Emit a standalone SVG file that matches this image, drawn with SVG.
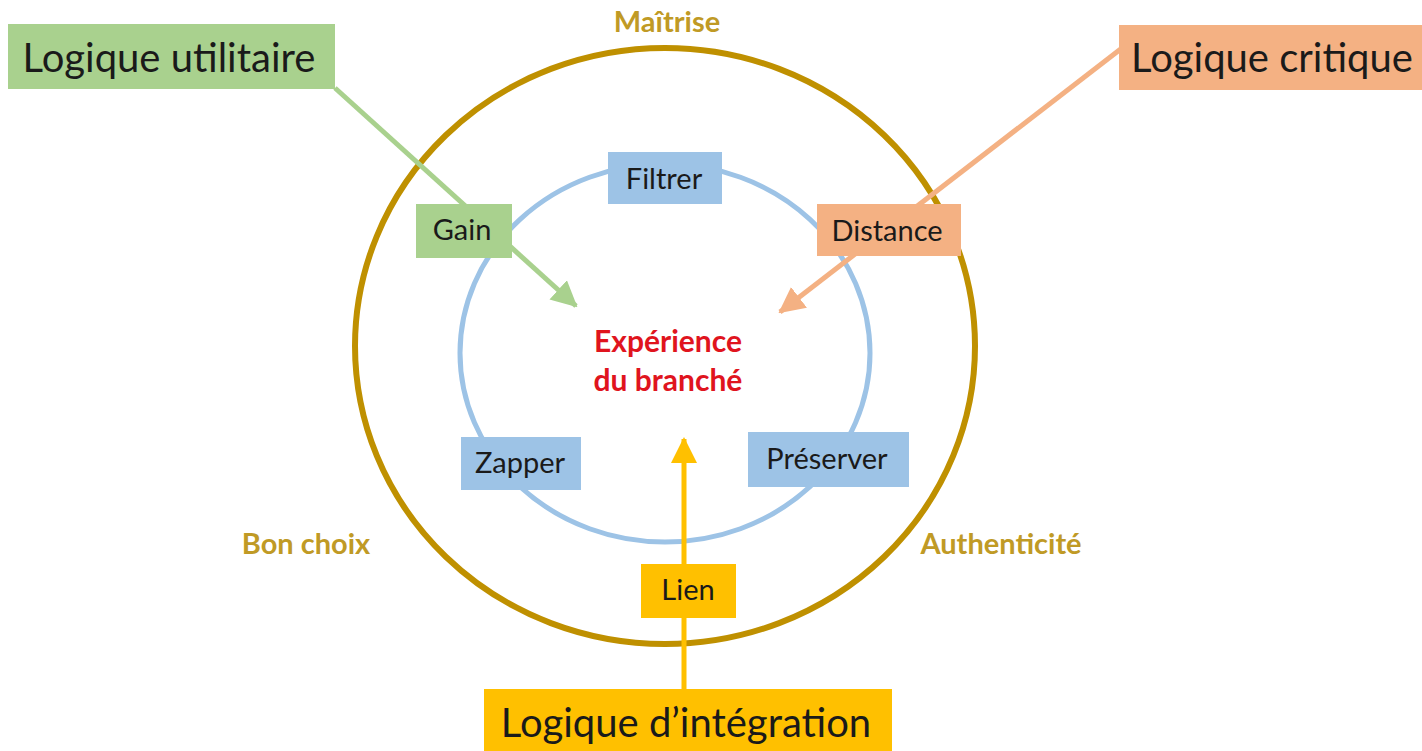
<svg xmlns="http://www.w3.org/2000/svg" width="1422" height="751" viewBox="0 0 1422 751">
<style>
text{font-family:Lato,"Liberation Sans",sans-serif;text-anchor:middle;fill:#1a1a1a}
.big{font-size:40px}
.sm{font-size:29px}
.gold{font-size:29px;font-weight:bold;fill:#C09A25}
.red{font-size:30px;font-weight:bold;fill:#E0141E}
.green{fill:#A9D18E}.orange{fill:#F4B183}.blue{fill:#9DC3E6}.yellow{fill:#FFC000}
</style>
<defs>
<marker id="ag" markerUnits="userSpaceOnUse" markerWidth="26" markerHeight="26" viewBox="0 0 26 26" refX="24" refY="13" orient="auto"><path d="M0,0 L26,13 L0,26 z" fill="#A9D18E"/></marker>
<marker id="ao" markerUnits="userSpaceOnUse" markerWidth="26" markerHeight="26" viewBox="0 0 26 26" refX="24" refY="13" orient="auto"><path d="M0,0 L26,13 L0,26 z" fill="#F4B183"/></marker>
<marker id="ay" markerUnits="userSpaceOnUse" markerWidth="26" markerHeight="26" viewBox="0 0 26 26" refX="24" refY="13" orient="auto"><path d="M0,0 L26,13 L0,26 z" fill="#FFC000"/></marker>
</defs>
<rect width="1422" height="751" fill="#fff"/>
<g id="rings">
<ellipse cx="665" cy="346" rx="310" ry="298" fill="none" stroke="#BF9000" stroke-width="6"/>
<ellipse cx="665" cy="353" rx="205" ry="189" fill="none" stroke="#9DC3E6" stroke-width="5"/>
</g>
<g id="connectors" stroke-width="5" fill="none">
<line x1="335" y1="88" x2="576" y2="306" stroke="#A9D18E" marker-end="url(#ag)"/>
<line x1="1122" y1="48" x2="780" y2="312" stroke="#F4B183" marker-end="url(#ao)"/>
<line x1="684" y1="689" x2="684" y2="439" stroke="#FFC000" marker-end="url(#ay)"/>
</g>
<g id="logique-utilitaire"><rect class="green" x="8" y="24" width="327" height="65"/><text class="big" x="169" y="72">Logique utilitaire</text></g>
<g id="logique-critique"><rect class="orange" x="1119" y="25" width="303" height="65"/><text class="big" x="1272" y="72">Logique critique</text></g>
<g id="logique-integration"><rect class="yellow" x="484" y="689" width="408" height="62"/><text class="big" x="686" y="737">Logique d’intégration</text></g>
<g id="gain"><rect class="green" x="416" y="204" width="96" height="54"/><text class="sm" x="462" y="240">Gain</text></g>
<g id="filtrer"><rect class="blue" x="608" y="152" width="114" height="52"/><text class="sm" x="664" y="189">Filtrer</text></g>
<g id="distance"><rect class="orange" x="817" y="204" width="144" height="52"/><text class="sm" x="887" y="241">Distance</text></g>
<g id="zapper"><rect class="blue" x="461" y="437" width="120" height="53"/><text class="sm" x="520" y="473">Zapper</text></g>
<g id="preserver"><rect class="blue" x="748" y="432" width="161" height="55"/><text class="sm" x="827" y="469">Préserver</text></g>
<g id="lien"><rect class="yellow" x="641" y="564" width="95" height="54"/><text class="sm" x="688" y="600">Lien</text></g>
<g id="labels">
<text class="gold" x="667" y="32">Maîtrise</text>
<text class="gold" x="306" y="554">Bon choix</text>
<text class="gold" x="1001" y="554">Authenticité</text>
</g>
<g id="experience"><text class="red" x="668" y="352">Expérience</text><text class="red" x="668" y="391">du branché</text></g>
</svg>
